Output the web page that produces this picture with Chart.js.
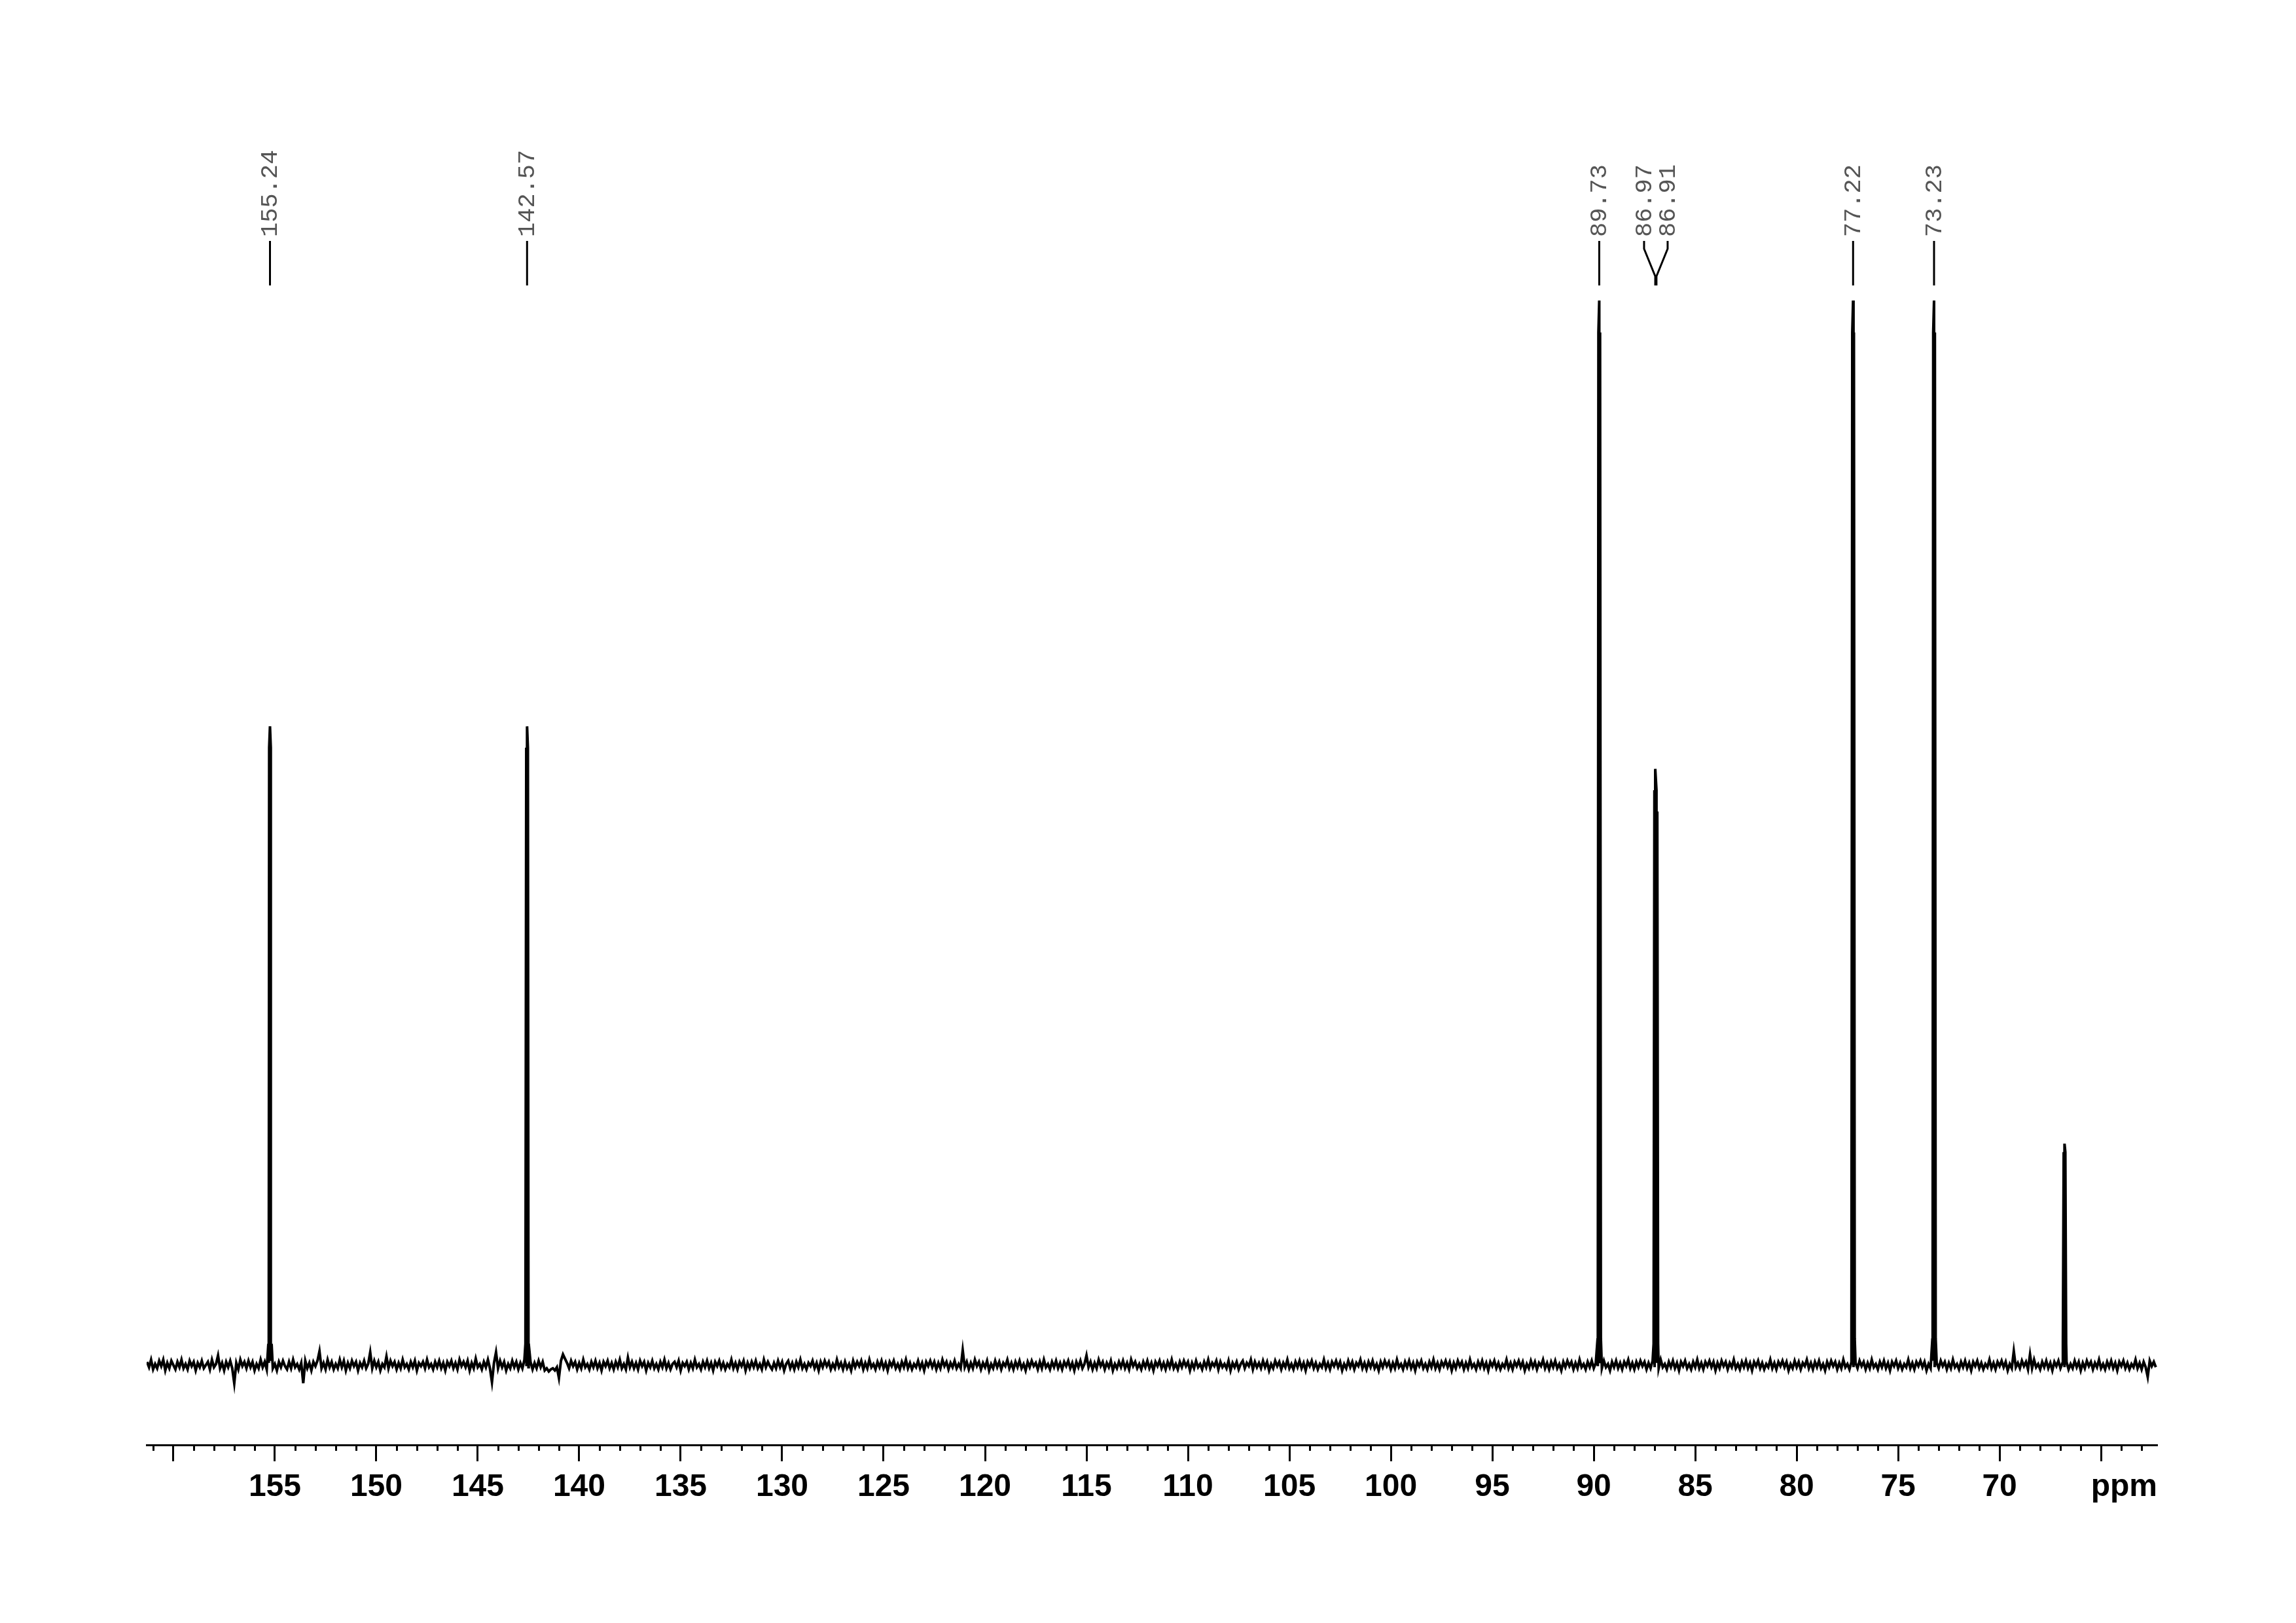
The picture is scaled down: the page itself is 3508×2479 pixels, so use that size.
<!DOCTYPE html>
<html>
<head>
<meta charset="utf-8">
<title>13C NMR spectrum</title>
<script src="https://cdn.jsdelivr.net/npm/chart.js@4.4.1/dist/chart.umd.min.js"></script>
<style>
  html, body { margin: 0; padding: 0; background: #fff; }
  canvas { display: block; }
</style>
</head>
<body>
<canvas id="nmr" width="3508" height="2479"></canvas>
<script>
// chemical shift axis (ppm, reversed)
const ppmMin = 62.23;
const ppmMax = 161.32;
const majorTicks = [160, 155, 150, 145, 140, 135, 130, 125, 120, 115, 110, 105, 100, 95, 90, 85, 80, 75, 70, 65];
const tickLabels = [155, 150, 145, 140, 135, 130, 125, 120, 115, 110, 105, 100, 95, 90, 85, 80, 75, 70];

// signals: position, apex height (tallest = 100), height 0.04 ppm off apex, foot height
const peakPpm = [155.24, 142.57, 89.73, 86.97, 86.91, 77.22, 73.23, 66.80];
const peakHeight = [60, 60, 100, 56, 54, 100, 100, 20.8];
const peakShoulder = [58, 58, 97, 54, 52, 97, 97, 20];
const peakFoot = [2, 2, 2.5, 2, 2, 2.5, 2.5, 2];

// picked peak labels shown on top
const peakLabels = [155.24, 142.57, 89.73, 86.97, 86.91, 77.22, 73.23];

// baseline read every 0.1 ppm from 161.3 ppm downwards (tenths of a unit)
const noiseStart = 161.3;
const noiseStep = 0.1;
const noise = [
  3,-2,5,-4,1,-3,4,-1,5,-5, 2,-3,4,0,-4,3,-2,5,-3,1, -4,4,-1,3,-5,2,-2,4,-3,0, 3,-4,5,-2,1,9,-3,2,-5,3, -2,4,-3,-17,2,-4,5,-1,3,-3,
  4,-2,3,-5,1,-3,5,-2,3,-4, 2,4,-3,1,-5,3,-2,4,-1,-4, 3,-3,5,-2,1,-4,2,-17,4,-3, 2,-5,3,-1,4,13,-3,2,-4,5, -2,3,-4,1,-3,5,-2,4,-5,2,
  -3,4,-1,3,-5,2,-2,4,-3,1, 12,-3,4,-2,3,-5,1,-2,8,-3, 4,-1,3,-4,2,-3,5,-2,1,-4, 3,-2,4,-5,2,-1,3,-3,5,-2, 1,-4,3,-2,4,-3,2,-5,3,-1,
  4,-3,2,-4,5,-1,3,-2,4,-5, 2,-3,6,-2,1,-4,3,-2,5,-3, -16,2,12,-3,4,-2,3,-5,1,-3, 4,-2,3,-4,2,-3,5,-1,-2,3, -4,2,-3,4,-2,3,-5,-3,-6,-4,
  -3,-5,-2,-12,4,10,6,2,-3,4, -1,3,-4,2,-3,5,-2,1,-4,3, -2,4,-3,2,-5,3,-1,4,-3,2, -4,3,-2,5,-3,1,-4,7,-2,3, -3,2,-4,4,-1,3,-5,2,-2,4,
  -3,1,-4,3,-2,5,-3,2,-4,1, 3,-2,4,-5,2,-1,3,-4,2,-3, 5,-2,1,-4,3,-2,4,-3,2,-5, 3,-1,4,-3,2,-4,1,-2,5,-3, 2,-4,3,-1,4,-5,2,-3,3,-2,
  4,-3,1,-4,5,-2,3,-1,-4,2, -3,4,-2,3,-5,1,4,-3,2,-4, 3,-2,5,-3,1,-4,2,-1,4,-3, 2,-5,3,-2,4,-1,3,-4,1,-3, 5,-2,2,-4,3,-3,1,-5,4,-2,
  3,-1,4,-4,2,-3,5,-2,1,-4, 3,-2,4,-3,2,-5,3,-1,4,-3, 1,-4,3,-2,5,-3,2,-4,1,-2, 4,-3,2,-5,3,-1,4,-2,3,-4, 2,-3,5,-1,3,-4,2,-2,4,-3,
  1,-3,14,-2,3,-4,2,-3,5,-1, 3,-4,2,-2,4,-5,1,-3,4,-2, 3,-4,2,-1,5,-3,2,-4,3,-2, 4,-3,1,-5,3,-2,4,-1,2,-4, 3,-3,5,-2,1,-4,3,-2,4,-3,
  2,-4,3,-1,4,-3,2,-5,3,-2, 4,-3,1,9,-2,3,-4,2,-3,5, -1,3,-4,2,-2,4,-5,1,-3,3, -2,4,-3,2,-4,5,-1,3,-3,1, -4,3,-2,4,-3,2,-5,3,-1,4,
  -3,2,-4,3,-2,5,-3,1,-4,3, -2,4,-1,3,-5,2,-3,4,-2,1, -4,3,-2,5,-3,2,-1,4,-4,3, -2,1,-3,4,-5,2,-2,3,-4,1, 4,-3,2,-1,5,-4,3,-2,2,-3,
  4,-2,3,-5,1,-3,4,-1,3,-4, 2,-2,5,-3,1,-4,3,-2,4,-3, 2,-5,3,-1,4,-3,2,-4,1,-2, 5,-3,2,-4,3,-1,4,-2,3,-5, 1,-3,4,-2,3,-4,2,-1,5,-3,
  2,-4,3,-2,4,-3,1,-5,3,-2, 4,-1,3,-4,2,-3,5,-2,1,-4, 3,-2,4,-3,2,-5,3,-1,4,-3, 1,-4,3,-2,5,-3,2,-4,3,-1, 4,-2,3,-5,2,-3,4,-1,3,-4,
  2,-3,5,-2,1,-4,3,-2,4,-3, 2,-5,3,-1,4,-3,2,-4,1,-2, 5,-3,2,-4,3,-1,4,-2,3,-5, 1,-3,4,-2,3,-4,2,-1,5,-3, 2,-4,3,-2,4,-3,1,-5,3,-2,
  4,-1,3,-4,2,-3,5,-2,1,-4, 3,-2,4,-3,2,-1,3,-3,4,-2, 1,-5,3,-2,4,-3,2,-4,3,-1, 5,-3,2,-4,3,-2,4,-1,3,-4, 2,-3,4,-2,2,-3,5,-2,1,-4,
  3,-2,4,-3,2,-5,3,-1,4,-3, 1,-4,3,-2,5,-3,2,-4,3,-1, 4,-2,3,-5,2,-3,4,-1,3,-4, 2,-2,5,-3,1,-4,3,-2,4,-3, 2,-5,3,-1,4,-3,2,-4,1,-2,
  5,-3,2,-4,3,-1,4,-2,3,-5, 1,-3,4,-2,3,-4,2,-1,5,-3, 2,-4,3,-2,4,-3,1,-5,3,-2, 4,-1,3,-4,2,-3,5,-2,1,-4, 3,-2,2,-3,4,-1,3,-4,2,-3,
  5,-2,1,-4,3,-2,4,-3,2,-5, 3,-1,4,-3,2,-4,1,-2,5,-3, 2,-4,3,-1,4,-2,3,-5,1,-3, 4,-2,2,-3,4,-1,3,-4,2,-3, 5,-2,1,-4,3,-2,4,-3,2,-5,
  3,-1,4,-3,2,-4,1,-2,5,-3, 2,-4,3,-1,4,-2,3,-5,1,-3, 13,-2,2,-3,4,-1,3,-4,10,-3, 5,-2,1,-4,3,-2,4,-3,2,-5, 3,-1,4,-3,2,-2,3,-4,1,-3,
  4,-2,3,-5,2,-3,4,-1,3,-4, 2,-2,5,-3,1,-4,3,-2,4,-3, 2,-5,3,-1,4,-3,2,-4,1,-2, 5,-3,2,-4,3,-2,-11,4,-1,3, -2
];

const points = noise.map((v, i) => ({ x: +(noiseStart - i * noiseStep).toFixed(2), y: v / 10 }));
peakPpm.forEach((p, i) => {
  const prevClose = i > 0 && peakPpm[i - 1] - p < 0.2;
  const nextClose = i < peakPpm.length - 1 && p - peakPpm[i + 1] < 0.2;
  if (!prevClose) {
    points.push({ x: p + 0.08, y: peakFoot[i] });
    points.push({ x: p + 0.04, y: peakShoulder[i] });
  }
  points.push({ x: p, y: peakHeight[i] });
  if (!nextClose) {
    points.push({ x: p - 0.04, y: peakShoulder[i] });
    points.push({ x: p - 0.08, y: peakFoot[i] });
  }
});
points.sort((a, b) => b.x - a.x);

const minorTicks = {
  id: 'minorTicks',
  afterDraw(chart) {
    const xs = chart.scales.x;
    const ctx = chart.ctx;
    ctx.save();
    ctx.strokeStyle = '#000';
    ctx.lineWidth = 3;
    for (let v = Math.ceil(ppmMin); v <= Math.floor(ppmMax); v++) {
      if (v % 5 === 0) continue;
      const x = Math.round(xs.getPixelForValue(v)) + 0.5;
      ctx.beginPath();
      ctx.moveTo(x, xs.top);
      ctx.lineTo(x, xs.top + 9);
      ctx.stroke();
    }
    // unit label on the tick label row
    ctx.fillStyle = '#000';
    ctx.font = 'bold 48px "Liberation Sans", Arial, sans-serif';
    ctx.textAlign = 'right';
    ctx.textBaseline = 'middle';
    ctx.fillText('ppm', xs.right, xs.top + 25 + 11 + 28.8);
    ctx.restore();
  }
};

const peakPicks = {
  id: 'peakPicks',
  afterDraw(chart) {
    const xs = chart.scales.x;
    const ctx = chart.ctx;
    const px = peakLabels.map(v => xs.getPixelForValue(v));
    const lx = px.slice();
    const gap = 36;
    // spread labels that would overlap
    for (let i = 1; i < lx.length; i++) {
      if (lx[i] - lx[i - 1] < gap) {
        const c = (px[i] + px[i - 1]) / 2;
        lx[i - 1] = c - gap / 2;
        lx[i] = c + gap / 2;
      }
    }
    ctx.save();
    ctx.strokeStyle = '#000';
    ctx.lineWidth = 3;
    peakLabels.forEach((v, i) => {
      ctx.beginPath();
      ctx.moveTo(lx[i], 368);
      ctx.lineTo(lx[i], 380);
      ctx.lineTo(px[i], 422);
      ctx.lineTo(px[i], 436);
      ctx.stroke();
      ctx.save();
      ctx.translate(lx[i], 362);
      ctx.rotate(-Math.PI / 2);
      ctx.fillStyle = '#555';
      ctx.font = '37px "Liberation Mono", "Courier New", monospace';
      ctx.textAlign = 'left';
      ctx.textBaseline = 'middle';
      ctx.fillText(v.toFixed(2), 0, 1);
      ctx.restore();
    });
    ctx.restore();
  }
};

new Chart(document.getElementById('nmr'), {
  type: 'line',
  data: {
    datasets: [{
      data: points,
      borderColor: '#000',
      borderWidth: 4,
      pointRadius: 0,
      tension: 0,
      fill: false
    }]
  },
  options: {
    responsive: false,
    animation: false,
    devicePixelRatio: 1,
    layout: { padding: { left: 224, right: 212, top: 440, bottom: 0 } },
    plugins: { legend: { display: false }, tooltip: { enabled: false } },
    scales: {
      x: {
        type: 'linear',
        reverse: true,
        min: ppmMin,
        max: ppmMax,
        afterBuildTicks: s => { s.ticks = majorTicks.map(v => ({ value: v })); },
        afterFit: s => { s.height = 272; },
        border: { display: true, color: '#000', width: 3 },
        grid: { drawOnChartArea: false, drawTicks: true, tickLength: 25, tickWidth: 3, tickColor: '#000' },
        ticks: {
          autoSkip: false,
          maxRotation: 0,
          padding: 11,
          color: '#000',
          font: { family: '"Liberation Sans", Arial, sans-serif', size: 48, weight: 'bold' },
          callback: v => tickLabels.includes(v) ? String(v) : ''
        }
      },
      y: { display: false, min: -7.5, max: 101.17 }
    }
  },
  plugins: [minorTicks, peakPicks]
});
</script>
</body>
</html>
